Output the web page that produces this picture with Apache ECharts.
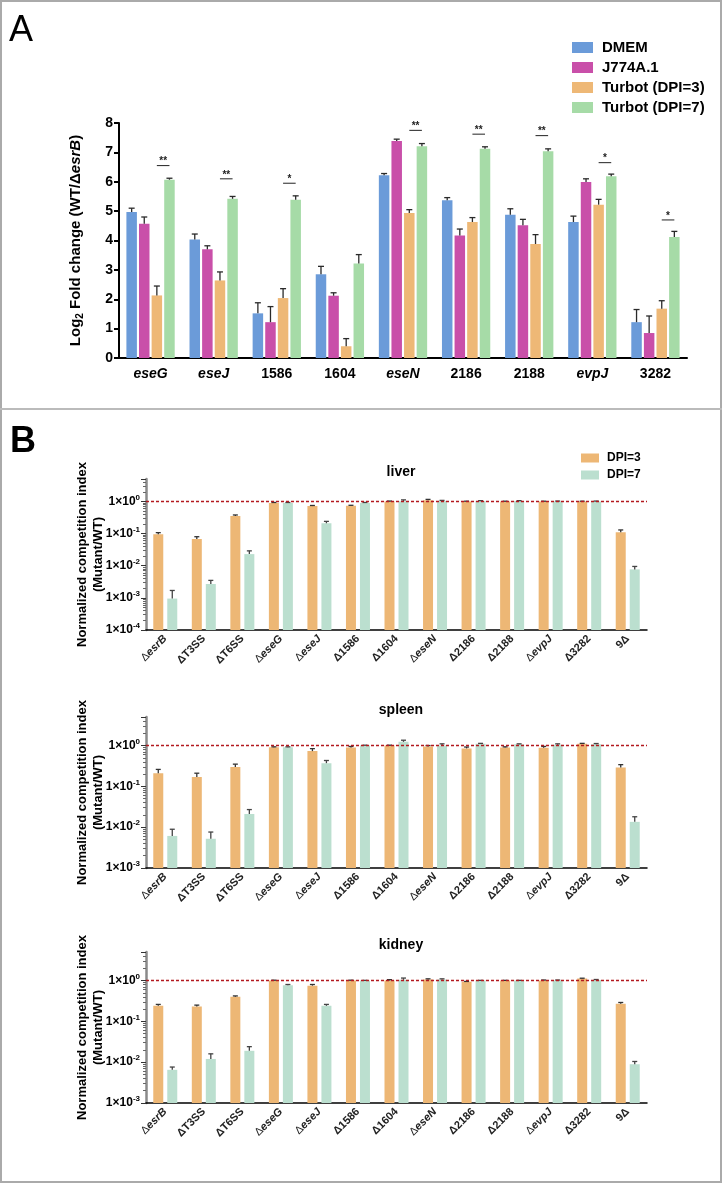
<!DOCTYPE html>
<html>
<head>
<meta charset="utf-8">
<script src="https://cdn.jsdelivr.net/npm/echarts@6/dist/echarts.min.js"></script>
<style>
html, body { margin: 0; padding: 0; background: #fff; }
#main { width: 722px; height: 1183px; }
</style>
</head>
<body>
<div id="main"></div>
<script>
// ---- panel A data ----
var genesA = ['eseG', 'eseJ', '1586', '1604', 'eseN', '2186', '2188', 'evpJ', '3282'];
var italicA = [true, true, false, false, true, false, false, true, false];
var dmem = [4.97, 4.03, 1.52, 2.85, 6.22, 5.37, 4.88, 4.63, 1.22];
var dmemErr = [5.1, 4.22, 1.88, 3.12, 6.28, 5.46, 5.08, 4.83, 1.65];
var j774 = [4.57, 3.7, 1.22, 2.12, 7.39, 4.17, 4.52, 5.99, 0.85];
var j774Err = [4.8, 3.82, 1.75, 2.22, 7.45, 4.39, 4.72, 6.1, 1.43];
var turbot3 = [2.13, 2.64, 2.04, 0.4, 4.94, 4.63, 3.88, 5.22, 1.68];
var turbot3Err = [2.45, 2.93, 2.36, 0.66, 5.05, 4.78, 4.2, 5.4, 1.95];
var turbot7 = [6.07, 5.42, 5.39, 3.22, 7.21, 7.12, 7.04, 6.19, 4.12];
var turbot7Err = [6.12, 5.5, 5.52, 3.52, 7.3, 7.19, 7.12, 6.26, 4.31];
var sigCat = [0, 1, 2, 4, 5, 6, 7, 8];
var sigY = [6.55, 6.1, 5.95, 7.75, 7.62, 7.57, 6.65, 4.7];
var sigText = ['**', '**', '*', '**', '**', '**', '*', '*'];

// ---- panel B data ----
var mutants = ['ΔesrB', 'ΔT3SS', 'ΔT6SS', 'ΔeseG', 'ΔeseJ', 'Δ1586', 'Δ1604', 'ΔeseN', 'Δ2186', 'Δ2188', 'ΔevpJ', 'Δ3282', '9Δ'];
var italicB = [true, false, false, true, true, false, false, true, false, false, true, false, false];
var liver3 = [0.095, 0.068, 0.35, 0.89, 0.72, 0.73, 1.0, 1.1, 1.0, 1.0, 1.0, 1.0, 0.11];
var liver3Err = [0.107, 0.08, 0.38, 0.93, 0.75, 0.76, 1.03, 1.16, 1.02, 1.02, 1.02, 1.02, 0.13];
var liver7 = [0.00095, 0.0027, 0.023, 0.89, 0.21, 0.89, 1.02, 1.03, 1.03, 1.03, 1.0, 1.0, 0.0077];
var liver7Err = [0.0017, 0.0035, 0.029, 0.93, 0.24, 0.93, 1.12, 1.08, 1.06, 1.06, 1.03, 1.03, 0.0095];
var spleen3 = [0.21, 0.17, 0.30, 0.91, 0.73, 0.90, 1.0, 0.95, 0.85, 0.9, 0.88, 1.1, 0.29];
var spleen3Err = [0.26, 0.21, 0.35, 0.93, 0.84, 0.95, 1.02, 1.0, 0.92, 0.93, 0.95, 1.13, 0.34];
var spleen7 = [0.0061, 0.0052, 0.021, 0.91, 0.37, 1.0, 1.23, 1.0, 1.1, 1.08, 1.05, 1.07, 0.0135];
var spleen7Err = [0.0089, 0.0076, 0.027, 0.93, 0.43, 1.02, 1.35, 1.1, 1.13, 1.1, 1.1, 1.12, 0.018];
var kidney3 = [0.24, 0.23, 0.40, 1.0, 0.75, 1.0, 1.0, 1.06, 0.93, 1.0, 1.0, 1.12, 0.27];
var kidney3Err = [0.26, 0.25, 0.42, 1.02, 0.8, 1.02, 1.05, 1.1, 0.95, 1.01, 1.03, 1.14, 0.29];
var kidney7 = [0.0065, 0.012, 0.019, 0.77, 0.24, 1.0, 1.04, 1.06, 1.0, 1.0, 1.0, 1.03, 0.0089];
var kidney7Err = [0.0076, 0.016, 0.024, 0.8, 0.26, 1.01, 1.15, 1.1, 1.01, 1.01, 1.03, 1.06, 0.0104];
var refLevel = 1; // WT level, dashed line

var FONT = "'Liberation Sans', Arial, sans-serif";
var colA = ['#6b9bd9', '#c94fa9', '#eeb876', '#a6dba7'];
var colB = ['#edb775', '#bbdfcf'];
var BW_A = 10.5, GAP_A = 2.1;
var BW_B = 10, GAP_B = 4;

var myChart = echarts.init(document.getElementById('main'));

function triples(vals, errs) {
	return vals.map(function(v, i) { return [i, v, errs[i]]; });
}

// error bar drawn above a bar, offset in px from category centre
function errRender(offset, capW, color) {
	return function(params, api) {
		var c = api.value(0);
		var base = api.coord([c, api.value(1)]);
		var top = api.coord([c, api.value(2)]);
		var x = base[0] + offset;
		var st = { stroke: color, lineWidth: 1.3 };
		return {
			type: 'group',
			children: [
				{ type: 'line', shape: { x1: x, y1: base[1], x2: x, y2: top[1] }, style: st },
				{ type: 'line', shape: { x1: x - capW / 2, y1: top[1], x2: x + capW / 2, y2: top[1] }, style: st }
			]
		};
	};
}

// dashed reference line across the whole grid
function refLineRender(params, api) {
	var p = api.coord([0, api.value(1)]);
	var cs = params.coordSys;
	return {
		type: 'line',
		shape: { x1: cs.x, y1: p[1], x2: cs.x + cs.width, y2: p[1] },
		style: { stroke: '#b3191f', lineWidth: 1.5, lineDash: [3, 2] }
	};
}

function offsetOf(i, n, bw, gap) {
	var total = n * bw + (n - 1) * gap;
	return -total / 2 + bw / 2 + i * (bw + gap);
}

function catLabelB(v) {
	var idx = mutants.indexOf(v);
	if (italicB[idx]) return '{d|Δ}{i|' + v.slice(1) + '}';
	return '{n|' + v + '}';
}

function logLabel(v) {
	var l = Math.log10(v);
	var e = Math.round(l);
	if (Math.abs(l - e) > 1e-6) return '';
	return '{b|1×10}{s|' + e + '}';
}

var grids = [
	{ left: 119, right: 35, top: 123, bottom: 825 },
	{ left: 146, right: 75, top: 479, bottom: 553 },
	{ left: 146, right: 75, top: 717, bottom: 315 },
	{ left: 146, right: 75, top: 952, bottom: 80 }
];

var xAxes = [{
	type: 'category',
	gridIndex: 0,
	data: genesA,
	axisLine: { lineStyle: { color: '#000', width: 2 } },
	axisTick: { alignWithLabel: true, length: 5, lineStyle: { color: '#000', width: 2 } },
	axisLabel: {
		margin: 9,
		formatter: function(v) {
			return italicA[genesA.indexOf(v)] ? '{i|' + v + '}' : '{n|' + v + '}';
		},
		rich: {
			i: { fontFamily: FONT, fontSize: 14, fontWeight: 'bold', fontStyle: 'italic', color: '#000' },
			n: { fontFamily: FONT, fontSize: 14, fontWeight: 'bold', color: '#000' }
		}
	}
}];
var yAxes = [{
	type: 'value',
	gridIndex: 0,
	min: 0,
	max: 8,
	interval: 1,
	name: '{n|Log}{sub|2}{n| Fold change (WT/Δ}{i|esrB}{n|)}',
	nameLocation: 'middle',
	nameGap: 34,
	nameMoveOverlap: false,
	nameTextStyle: {
		rich: {
			n: { fontFamily: FONT, fontSize: 15, fontWeight: 'bold', color: '#000', lineHeight: 18 },
			sub: { fontFamily: FONT, fontSize: 10, fontWeight: 'bold', color: '#000', verticalAlign: 'bottom' },
			i: { fontFamily: FONT, fontSize: 15, fontWeight: 'bold', fontStyle: 'italic', color: '#000', lineHeight: 18 }
		}
	},
	axisLine: { show: true, lineStyle: { color: '#000', width: 2 } },
	axisTick: { show: true, length: 5, lineStyle: { color: '#000', width: 2 } },
	axisLabel: { fontFamily: FONT, fontSize: 14, fontWeight: 'bold', color: '#000', margin: 6 },
	splitLine: { show: false }
}];

var organMin = [1e-4, 1e-3, 1e-3];
for (var g = 1; g <= 3; g++) {
	xAxes.push({
		type: 'category',
		gridIndex: g,
		data: mutants,
		axisLine: { lineStyle: { color: '#000', width: 1.5 } },
		axisTick: { alignWithLabel: true, length: 5, lineStyle: { color: '#000', width: 1.5 } },
		axisLabel: {
			rotate: 45,
			margin: 7,
			interval: 0,
			formatter: catLabelB,
			rich: {
				d: { fontFamily: FONT, fontSize: 11, color: '#222' },
				i: { fontFamily: FONT, fontSize: 11, fontWeight: 'bold', fontStyle: 'italic', color: '#222' },
				n: { fontFamily: FONT, fontSize: 11, fontWeight: 'bold', color: '#222' }
			}
		}
	});
	yAxes.push({
		type: 'log',
		gridIndex: g,
		min: organMin[g - 1],
		max: 5,
		logBase: 10,
		startValue: organMin[g - 1],
		name: 'Normalized competition index\n(Mutant/WT)',
		nameLocation: 'middle',
		nameGap: 40,
		nameMoveOverlap: false,
		nameTextStyle: { fontFamily: FONT, fontSize: 13, fontWeight: 'bold', color: '#000', lineHeight: 16 },
		axisLine: { show: true, lineStyle: { color: '#8a8a8a', width: 2.5 } },
		axisTick: { show: true, length: 5, lineStyle: { color: '#333', width: 1 } },
		minorTick: { show: true, splitNumber: 9, length: 3, lineStyle: { color: '#666' } },
		axisLabel: {
			margin: 6,
			formatter: logLabel,
			rich: {
				b: { fontFamily: FONT, fontSize: 12, fontWeight: 'bold', color: '#000', lineHeight: 16 },
				s: { fontFamily: FONT, fontSize: 8, fontWeight: 'bold', color: '#000', verticalAlign: 'top' }
			}
		},
		splitLine: { show: false }
	});
}

var series = [];
var namesA = ['DMEM', 'J774A.1', 'Turbot (DPI=3)', 'Turbot (DPI=7)'];
var valsA = [dmem, j774, turbot3, turbot7];
var errsA = [dmemErr, j774Err, turbot3Err, turbot7Err];
for (var s = 0; s < 4; s++) {
	series.push({
		name: namesA[s],
		type: 'bar',
		xAxisIndex: 0,
		yAxisIndex: 0,
		data: valsA[s],
		barWidth: BW_A,
		barGap: '20%',
		itemStyle: { color: colA[s] }
	});
	series.push({
		type: 'custom',
		xAxisIndex: 0,
		yAxisIndex: 0,
		z: 3,
		silent: true,
		encode: { x: 0, y: [1, 2] },
		data: triples(valsA[s], errsA[s]),
		renderItem: errRender(offsetOf(s, 4, BW_A, GAP_A), 6, '#2a2a2a')
	});
}
// significance bars between Turbot DPI=3 and DPI=7
series.push({
	type: 'custom',
	xAxisIndex: 0,
	yAxisIndex: 0,
	z: 3,
	silent: true,
	encode: { x: 0, y: 1 },
	data: sigCat.map(function(c, i) { return [c, sigY[i], sigText[i]]; }),
	renderItem: function(params, api) {
		var p = api.coord([api.value(0), api.value(1)]);
		var x1 = p[0] + offsetOf(2, 4, BW_A, GAP_A);
		var x2 = p[0] + offsetOf(3, 4, BW_A, GAP_A);
		return {
			type: 'group',
			children: [
				{ type: 'line', shape: { x1: x1, y1: p[1], x2: x2, y2: p[1] }, style: { stroke: '#222', lineWidth: 1 } },
				{ type: 'text', style: { text: sigText[params.dataIndex], x: (x1 + x2) / 2, y: p[1] + 1, align: 'center', verticalAlign: 'bottom', font: 'bold 10px ' + FONT, fill: '#222' } }
			]
		};
	}
});

var organs = [[liver3, liver3Err, liver7, liver7Err], [spleen3, spleen3Err, spleen7, spleen7Err], [kidney3, kidney3Err, kidney7, kidney7Err]];
for (var o = 0; o < 3; o++) {
	var ax = o + 1;
	series.push({
		name: 'DPI=3',
		type: 'bar',
		xAxisIndex: ax,
		yAxisIndex: ax,
		data: organs[o][0],
		barWidth: BW_B,
		barGap: '40%',
		itemStyle: { color: colB[0] }
	});
	series.push({
		name: 'DPI=7',
		type: 'bar',
		xAxisIndex: ax,
		yAxisIndex: ax,
		data: organs[o][2],
		barWidth: BW_B,
		barGap: '40%',
		itemStyle: { color: colB[1] }
	});
	series.push({
		type: 'custom', xAxisIndex: ax, yAxisIndex: ax, z: 3, silent: true,
		encode: { x: 0, y: [1, 2] },
		data: triples(organs[o][0], organs[o][1]),
		renderItem: errRender(offsetOf(0, 2, BW_B, GAP_B), 5, '#333')
	});
	series.push({
		type: 'custom', xAxisIndex: ax, yAxisIndex: ax, z: 3, silent: true,
		encode: { x: 0, y: [1, 2] },
		data: triples(organs[o][2], organs[o][3]),
		renderItem: errRender(offsetOf(1, 2, BW_B, GAP_B), 5, '#444')
	});
	series.push({
		type: 'custom', xAxisIndex: ax, yAxisIndex: ax, z: 4, silent: true,
		encode: { x: 0, y: 1 },
		data: [[0, refLevel]],
		renderItem: refLineRender
	});
}

var option = {
	backgroundColor: '#fff',
	animation: false,
	textStyle: { fontFamily: FONT },
	title: [
		{ text: 'A', left: 4, top: 8, textStyle: { fontFamily: FONT, fontSize: 36, fontWeight: 'normal', color: '#000' } },
		{ text: 'B', left: 5, top: 419, textStyle: { fontFamily: FONT, fontSize: 36, fontWeight: 'bold', color: '#000' } },
		{ text: 'liver', left: 396, top: 460, textAlign: 'center', textStyle: { fontFamily: FONT, fontSize: 14, fontWeight: 'bold', color: '#000' } },
		{ text: 'spleen', left: 396, top: 698, textAlign: 'center', textStyle: { fontFamily: FONT, fontSize: 14, fontWeight: 'bold', color: '#000' } },
		{ text: 'kidney', left: 396, top: 933, textAlign: 'center', textStyle: { fontFamily: FONT, fontSize: 14, fontWeight: 'bold', color: '#000' } }
	],
	legend: [{
		data: namesA,
		orient: 'vertical',
		left: 572,
		top: 40,
		padding: 0,
		itemWidth: 21,
		itemHeight: 11,
		itemGap: 5,
		icon: 'rect',
		selectedMode: false,
		textStyle: { fontFamily: FONT, fontSize: 15, fontWeight: 'bold', color: '#000', padding: [0, 0, 0, 4] }
	}, {
		data: ['DPI=3', 'DPI=7'],
		orient: 'vertical',
		left: 581,
		top: 452,
		padding: 0,
		itemWidth: 18,
		itemHeight: 9,
		itemGap: 5,
		icon: 'rect',
		selectedMode: false,
		textStyle: { fontFamily: FONT, fontSize: 12, fontWeight: 'bold', color: '#000', padding: [0, 0, 0, 3] }
	}],
	graphic: [
		{ type: 'rect', shape: { x: 1, y: 1, width: 720, height: 1181 }, style: { fill: null, stroke: '#aaa', lineWidth: 2 }, silent: true },
		{ type: 'line', shape: { x1: 0, y1: 409, x2: 722, y2: 409 }, style: { stroke: '#bbb', lineWidth: 2 }, silent: true }
	],
	grid: grids,
	xAxis: xAxes,
	yAxis: yAxes,
	series: series
};

myChart.setOption(option);
</script>
</body>
</html>
